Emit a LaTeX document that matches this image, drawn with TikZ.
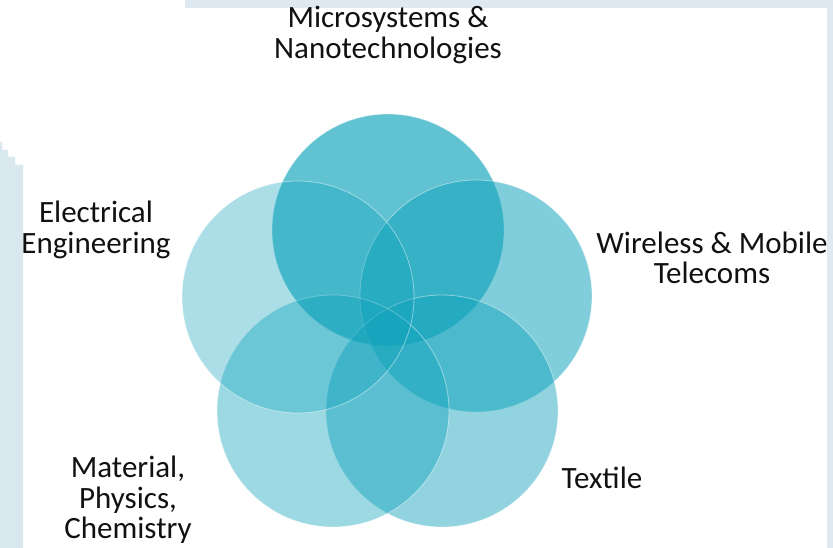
\documentclass[tikz,border=0pt]{standalone}
\usepackage{fontspec}
\setmainfont{Carlito}
\definecolor{frameblue}{HTML}{DEE9F2}
\definecolor{stripblue}{HTML}{D8E8EE}
\definecolor{venn}{HTML}{10A3BC}
\definecolor{labelink}{HTML}{111111}
\tikzset{
  venncircle/.style={circle, minimum size=232pt, inner sep=0pt, fill=venn,
    draw=white, draw opacity=0.45, line width=0.8pt},
  vennlabel/.style={align=center, font=\fontsize{31}{30.5}\selectfont, text=labelink},
}
\begin{document}
\begin{tikzpicture}[x=1pt,y=-1pt]
    \useasboundingbox (0,0) rectangle (833,548);
    %% frame
    \fill[white] (0,0) rectangle (833,548);
    \fill[frameblue] (185,0) rectangle (833,8);\fill[frameblue] (827,0) rectangle (833,548);
    \fill[stripblue] (0,142) -- (2,142) -- (2,150) -- (8,150) -- (8,157) -- (15,157) -- (15,165)
      -- (23,165) -- (23,548) -- (0,548) -- cycle;
    %% circles
    \node[venncircle, fill opacity=0.66] (micro) at (388,230) {};
    \node[venncircle, fill opacity=0.53] (wireless) at (476,296) {};
    \node[venncircle, fill opacity=0.46] (textile) at (442,411) {};
    \node[venncircle, fill opacity=0.41] (material) at (333,411) {};
    \node[venncircle, fill opacity=0.35] (electrical) at (298,297) {};
    %% labels
    \node[vennlabel] (micro label) at (388,35) {Microsystems \&\\Nanotechnologies};
    \node[vennlabel] (electrical label) at (96,230) {Electrical\\Engineering};
    \node[vennlabel] (wireless label) at (712,258) {Wireless \& Mobile\\Telecoms};
    \node[vennlabel] (material label) at (128,500) {Material,\\Physics,\\Chemistry};
    \node[vennlabel] (textile label) at (602,478) {Textile};
\end{tikzpicture}
\end{document}
